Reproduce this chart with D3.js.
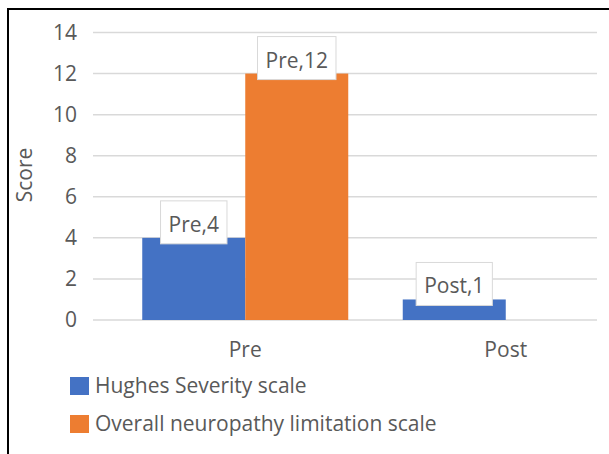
<!DOCTYPE html>
<html>
<head>
<meta charset="utf-8">
<script src="https://cdn.jsdelivr.net/npm/d3@7/dist/d3.min.js"></script>
<style>
  html, body { margin: 0; padding: 0; background: #fff; }
  svg { display: block; }
  text { font-family: "Open Sans", "Noto Sans", sans-serif; fill: #595959; }
</style>
</head>
<body>
<svg id="chart" width="609" height="454"></svg>
<script>
// Scores before and after treatment
const categories = ["Pre", "Post"];
const seriesNames = ["Hughes Severity scale", "Overall neuropathy limitation scale"];
const hughesValues = [4, 1];
const onlsValues = [12, null];
const yTicks = [0, 2, 4, 6, 8, 10, 12, 14];
const seriesColors = ["#4472C4", "#ED7D31"];

const seriesValues = [hughesValues, onlsValues];
const FS = "21px";

const svg = d3.select("#chart");
const W = 609, H = 454;

// Frame (left and top edges)
svg.append("path")
  .attr("d", `M8,${H} L8,9 L${W},9`)
  .attr("fill", "none")
  .attr("stroke", "#000")
  .attr("stroke-width", 2);

const y = d3.scaleLinear().domain([0, 14]).range([320, 32.5]);
const x = d3.scaleBand().domain(categories).range([115, 636]).paddingInner(0).paddingOuter(0);
const inner = d3.scaleBand().domain(d3.range(seriesNames.length)).range([-103, 103]);

const gridX0 = 93, gridX1 = 597;

// Gridlines
svg.append("g")
  .selectAll("line")
  .data(yTicks)
  .join("line")
  .attr("x1", gridX0).attr("x2", gridX1)
  .attr("y1", d => y(d)).attr("y2", d => y(d))
  .attr("stroke", "#D9D9D9")
  .attr("stroke-width", 1.5);

// Y axis tick labels
const yAxis = d3.axisLeft(y).tickValues(yTicks).tickSize(0).tickPadding(0);
const gy = svg.append("g").attr("transform", "translate(77,0)").call(yAxis);
gy.select(".domain").remove();
gy.selectAll("text")
  .attr("fill", "#595959")
  .style("font-size", FS)
  .style("font-family", '"Open Sans", sans-serif');

// Y axis title
svg.append("text")
  .attr("transform", "translate(32,175) rotate(-90)")
  .attr("text-anchor", "middle")
  .style("font-size", FS)
  .text("Score");

// Bars
const barData = [];
categories.forEach((c, i) => {
  seriesValues.forEach((vals, s) => {
    if (vals[i] != null) barData.push({ cat: c, s, v: vals[i] });
  });
});

const cx = c => x(c) + x.bandwidth() / 2;

svg.append("g")
  .selectAll("rect")
  .data(barData)
  .join("rect")
  .attr("x", d => cx(d.cat) + inner(d.s))
  .attr("width", inner.bandwidth())
  .attr("y", d => y(d.v))
  .attr("height", d => y(0) - y(d.v))
  .attr("fill", d => seriesColors[d.s]);

// Data labels in white boxes
const labels = svg.append("g")
  .selectAll("g")
  .data(barData)
  .join("g")
  .attr("transform", d => `translate(${cx(d.cat) + inner(d.s) + inner.bandwidth() / 2},${y(d.v)})`);

labels.each(function (d) {
  const g = d3.select(this);
  const rect = g.append("rect");
  const t = g.append("text")
    .attr("text-anchor", "middle")
    .attr("y", -6)
    .style("font-size", FS)
    .text(`${d.cat},${d.v}`);
  const w = t.node().getComputedTextLength() + 16;
  rect.attr("x", -w / 2).attr("width", w)
    .attr("y", -37).attr("height", 43)
    .attr("fill", "#fff")
    .attr("stroke", "#D9D9D9")
    .attr("stroke-width", 1);
});

// Category labels
svg.append("g")
  .selectAll("text")
  .data(categories)
  .join("text")
  .attr("x", d => cx(d))
  .attr("y", 357)
  .attr("text-anchor", "middle")
  .style("font-size", FS)
  .text(d => d);

// Legend
const legend = svg.append("g")
  .selectAll("g")
  .data(seriesNames)
  .join("g")
  .attr("transform", (d, i) => `translate(70,${377 + i * 38})`);

legend.append("rect")
  .attr("width", 19).attr("height", 18)
  .attr("fill", (d, i) => seriesColors[i]);

legend.append("text")
  .attr("x", 25)
  .attr("y", 16)
  .style("font-size", FS)
  .text(d => d);
</script>
</body>
</html>
